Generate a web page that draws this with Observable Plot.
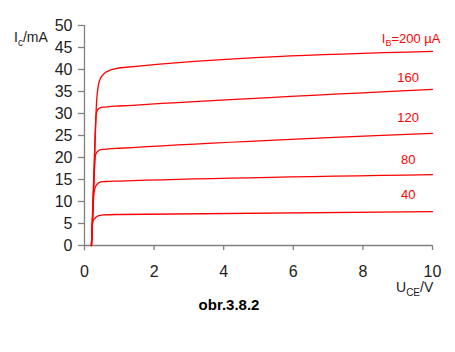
<!DOCTYPE html>
<html>
<head>
<meta charset="utf-8">
<script src="https://cdn.jsdelivr.net/npm/d3@7"></script>
<script src="https://cdn.jsdelivr.net/npm/@observablehq/plot@0.6"></script>
<style>
  body { margin: 0; background: #fff; }
  svg { font-family: "Liberation Sans", Arial, sans-serif; }
</style>
</head>
<body>
<div id="chart"></div>
<script>
// Curve data (U_CE in V, I_C in mA)
const ibLabels = ["40", "80", "120", "160", "200"];
const uce40  = [0.2, 0.22, 0.23, 0.26, 0.3, 0.36, 0.45, 0.55, 1, 10];
const ic40   = [0, 3.5, 5.1, 5.8, 6.2, 6.6, 6.85, 6.95, 7.05, 7.7];
const uce80  = [0.2, 0.24, 0.27, 0.3, 0.34, 0.4, 0.5, 0.6, 1, 10];
const ic80   = [0, 7, 11.8, 13.0, 13.7, 14.2, 14.5, 14.55, 14.65, 16.1];
const uce120 = [0.2, 0.26, 0.31, 0.34, 0.38, 0.44, 0.52, 0.7, 1, 10];
const ic120  = [0, 12, 20.2, 21.0, 21.4, 21.7, 21.85, 21.95, 22.1, 25.5];
const uce160 = [0.2, 0.28, 0.34, 0.37, 0.41, 0.46, 0.55, 0.7, 1, 10];
const ic160  = [0, 17, 30.0, 30.7, 31.1, 31.3, 31.45, 31.55, 31.7, 35.5];
const uce200 = [0.2, 0.3, 0.35, 0.4, 0.45, 0.52, 0.6, 0.75, 0.9, 1.05, 10];
const ic200  = [0, 24, 33, 36.5, 37.8, 38.7, 39.3, 39.9, 40.2, 40.4, 44.1];

// Curve label positions (data coordinates)
const labelX = [9.3, 9.3, 9.3, 9.3, 9.4];
const labelY = [11.5, 19.5, 29.0, 38.2, 46.6];

const xTicks = [0, 2, 4, 6, 8, 10];
const yTicks = [0, 5, 10, 15, 20, 25, 30, 35, 40, 45, 50];

const series = [
  [uce40, ic40], [uce80, ic80], [uce120, ic120], [uce160, ic160], [uce200, ic200]
];
const rows = [];
series.forEach(([xs, ys], i) => xs.forEach((x, j) => rows.push({ib: ibLabels[i], x, y: ys[j]})));
const labels = ibLabels.map((s, i) => ({s, x: labelX[i], y: labelY[i]}));

const axisColor = "#808080";
const textColor = "#222";

const chart = Plot.plot({
  width: 455,
  height: 352,
  marginLeft: 84,
  marginRight: 23,
  marginTop: 25,
  marginBottom: 107,
  style: {fontFamily: "'Liberation Sans', Arial, sans-serif", background: "white"},
  x: {domain: [0, 10]},
  y: {domain: [0, 50]},
  marks: [
    Plot.ruleX([0], {y1: -1.2, y2: 50, stroke: axisColor, strokeWidth: 1.3}),
    Plot.ruleY([0], {x1: 0, x2: 10, stroke: axisColor, strokeWidth: 1.3}),
    Plot.axisY({ticks: yTicks, tickSize: 6, stroke: axisColor, strokeWidth: 1.3, fontSize: 16, fill: textColor, tickPadding: 6, label: null}),
    Plot.axisX({ticks: xTicks.slice(1), tickSize: 5, stroke: axisColor, strokeWidth: 1.3, text: null, label: null}),
    Plot.text(xTicks, {x: d => d, y: 0, dy: 26, text: d => String(d), fontSize: 16, fill: textColor}),
    Plot.line(rows, {x: "x", y: "y", z: "ib", stroke: "#ff0000", strokeWidth: 1.3, curve: "monotone-x"}),
    Plot.text(labels.slice(0, 4), {x: "x", y: "y", text: "s", fill: "#ff0000", fontSize: 13})
  ]
});

document.getElementById("chart").appendChild(chart);

const svg = d3.select(chart);
const xs = chart.scale("x"), ys = chart.scale("y");

// I_B=200 µA label
const lb = labels[4];
const t1 = svg.append("text")
  .attr("x", xs.apply(lb.x)).attr("y", ys.apply(lb.y))
  .attr("text-anchor", "middle").attr("dominant-baseline", "middle")
  .attr("fill", "#ff0000").attr("font-size", 13);
t1.append("tspan").text("I");
t1.append("tspan").attr("font-size", 9).attr("dy", 4).text("B");
t1.append("tspan").attr("dy", -4).text("=" + lb.s + " \u00B5A");

// Y axis label I_c/mA
const t2 = svg.append("text").attr("x", 14).attr("y", 42)
  .attr("text-anchor", "start")
  .attr("fill", textColor).attr("font-size", 14);
t2.append("tspan").text("I");
t2.append("tspan").attr("font-size", 10).attr("dy", 4).text("c");
t2.append("tspan").attr("dy", -4).text("/mA");

// X axis label U_CE/V
const t3 = svg.append("text").attr("x", 396).attr("y", 292)
  .attr("text-anchor", "start")
  .attr("fill", textColor).attr("font-size", 14);
t3.append("tspan").text("U");
t3.append("tspan").attr("font-size", 10).attr("dy", 4).text("CE");
t3.append("tspan").attr("dy", -4).text("/V");

// caption
svg.append("text").attr("x", 229).attr("y", 310)
  .attr("text-anchor", "middle").attr("font-weight", "bold")
  .attr("fill", "#000").attr("font-size", 15).text("obr.3.8.2");
</script>
</body>
</html>
